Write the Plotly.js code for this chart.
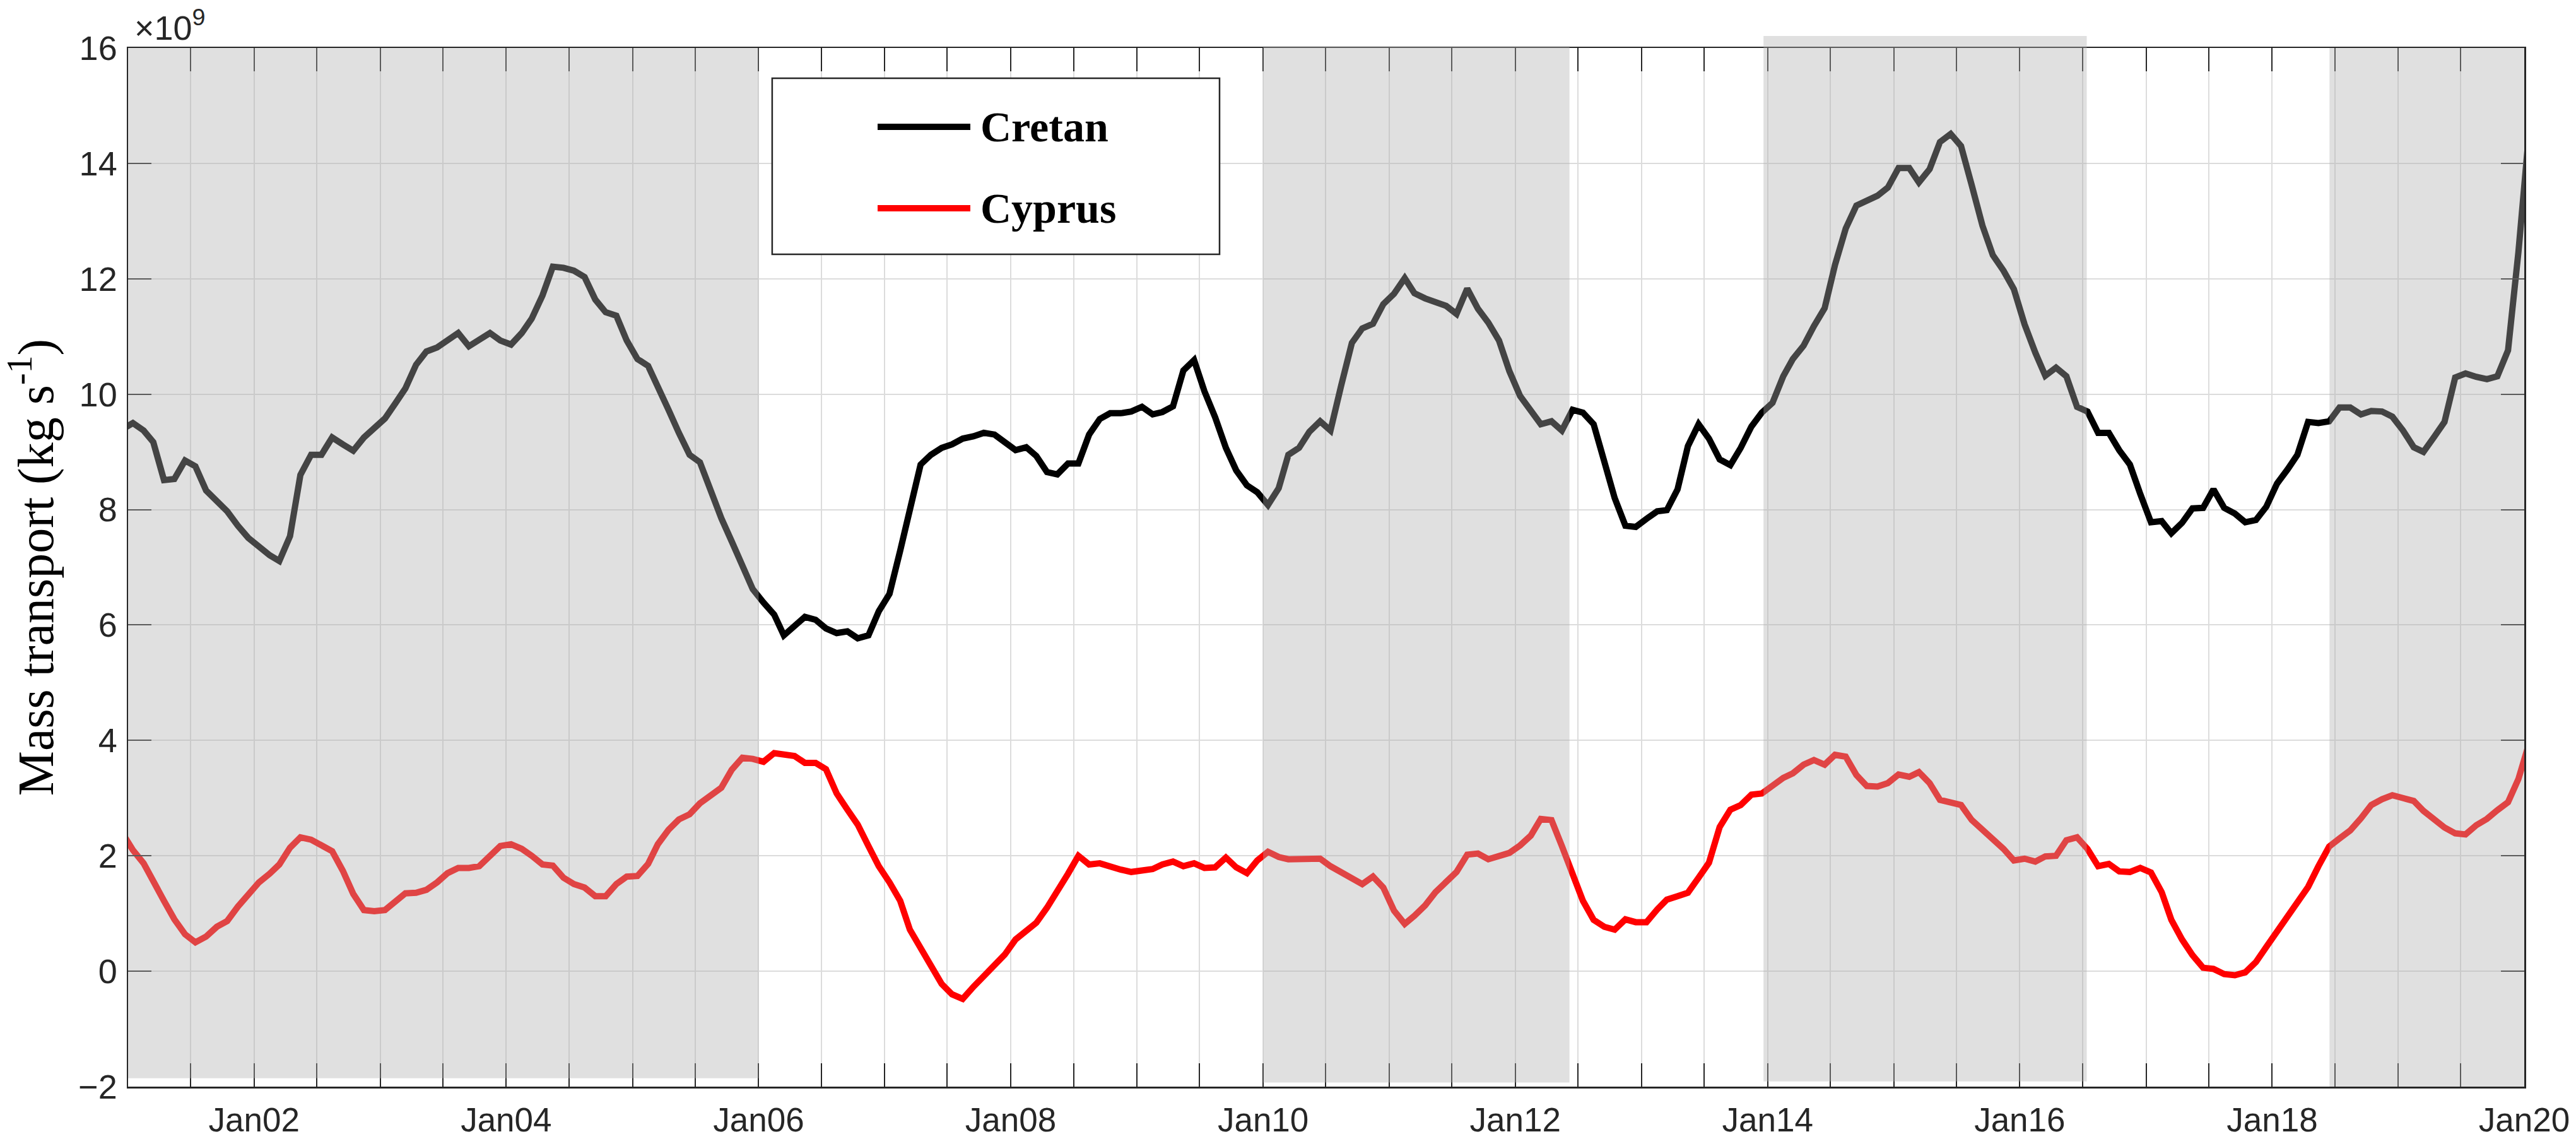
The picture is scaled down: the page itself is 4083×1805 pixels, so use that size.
<!DOCTYPE html>
<html>
<head>
<meta charset="utf-8">
<script src="https://cdn.plot.ly/plotly-3.0.1.min.js"></script>
<style>
  html, body { margin: 0; padding: 0; background: #fff; }
  #chart { width: 4083px; height: 1805px; }
</style>
</head>
<body>
<div id="chart"></div>
<script>
// monthly values (x10^9 kg/s), mid-month, Dec 2000 .. Jan 2020 (ends are clipped by the axis)
const firstMonth = [2000, 12];

const cretan = [
  9.39,
  9.50, 9.37, 9.17, 8.51, 8.53, 8.85, 8.75, 8.33, 8.15, 7.97, 7.72, 7.51,
  7.36, 7.21, 7.11, 7.54, 8.60, 8.95, 8.95, 9.25, 9.13, 9.02, 9.25, 9.40,
  9.58, 9.85, 10.10, 10.51, 10.74, 10.81, 10.93, 11.06, 10.83, 10.93, 11.06, 10.93,
  10.86, 11.06, 11.31, 11.71, 12.21, 12.19, 12.14, 12.03, 11.64, 11.42, 11.36, 10.93,
  10.61, 10.49, 10.10, 9.73, 9.33, 8.95, 8.82, 8.30, 7.85, 7.45, 7.02, 6.62,
  6.39, 6.18, 5.82, 5.97, 6.14, 6.09, 5.94, 5.86, 5.89, 5.77, 5.82, 6.24,
  6.54, 7.29, 8.05, 8.78, 8.95, 9.07, 9.13, 9.23, 9.27, 9.33, 9.30, 9.18,
  9.03, 9.08, 8.93, 8.65, 8.61, 8.80, 8.80, 9.30, 9.57, 9.67, 9.67, 9.70,
  9.78, 9.65, 9.69, 9.79, 10.41, 10.59, 10.05, 9.60, 9.07, 8.68, 8.42, 8.30,
  8.08, 8.37, 8.95, 9.07, 9.35, 9.53, 9.37, 10.15, 10.89, 11.14, 11.22, 11.56,
  11.74, 12.01, 11.75, 11.66, 11.60, 11.53, 11.39, 11.83, 11.48, 11.24, 10.93, 10.40,
  9.97, 9.73, 9.48, 9.53, 9.37, 9.73, 9.68, 9.48, 8.85, 8.20, 7.72, 7.70,
  7.84, 7.97, 7.99, 8.35, 9.10, 9.48, 9.23, 8.87, 8.77, 9.07, 9.44, 9.68,
  9.85, 10.31, 10.61, 10.84, 11.18, 11.49, 12.24, 12.87, 13.27, 13.35, 13.44, 13.58,
  13.92, 13.92, 13.67, 13.90, 14.37, 14.51, 14.30, 13.62, 12.92, 12.41, 12.14, 11.82,
  11.21, 10.72, 10.32, 10.46, 10.31, 9.78, 9.70, 9.33, 9.33, 9.03, 8.78, 8.27,
  7.78, 7.80, 7.59, 7.77, 8.02, 8.03, 8.35, 8.03, 7.93, 7.78, 7.82, 8.05,
  8.45, 8.70, 8.95, 9.52, 9.50, 9.53, 9.77, 9.77, 9.65, 9.71, 9.70, 9.61,
  9.37, 9.08, 9.00, 9.26, 9.52, 10.29, 10.36, 10.30, 10.26, 10.31, 10.76, 12.46,
  14.55
];

const cyprus = [
  2.40,
  2.10, 1.87, 1.54, 1.22, 0.90, 0.64, 0.50, 0.60, 0.77, 0.87, 1.12, 1.34,
  1.54, 1.69, 1.85, 2.14, 2.32, 2.28, 2.18, 2.08, 1.74, 1.34, 1.06, 1.04,
  1.06, 1.20, 1.35, 1.36, 1.41, 1.54, 1.70, 1.79, 1.79, 1.82, 2.00, 2.17,
  2.20, 2.12, 2.00, 1.85, 1.83, 1.62, 1.51, 1.45, 1.30, 1.30, 1.51, 1.64,
  1.65, 1.86, 2.20, 2.45, 2.63, 2.72, 2.91, 3.06, 3.18, 3.49, 3.70, 3.68,
  3.63, 3.78, 3.75, 3.73, 3.61, 3.61, 3.50, 3.08, 2.80, 2.54, 2.17, 1.82,
  1.54, 1.22, 0.72, 0.40, 0.11, -0.22, -0.40, -0.48, -0.27, -0.09, 0.09, 0.29,
  0.55, 0.70, 0.84, 1.10, 1.37, 1.69, 2.00, 1.85, 1.87, 1.81, 1.76, 1.72,
  1.74, 1.77, 1.85, 1.90, 1.82, 1.87, 1.79, 1.80, 1.97, 1.80, 1.70, 1.92,
  2.07, 1.98, 1.94, 1.94, 1.96, 1.95, 1.82, 1.72, 1.62, 1.51, 1.64, 1.45,
  1.05, 0.82, 0.96, 1.14, 1.37, 1.54, 1.72, 2.02, 2.04, 1.94, 1.99, 2.05,
  2.18, 2.35, 2.64, 2.62, 2.17, 1.67, 1.22, 0.89, 0.77, 0.72, 0.90, 0.85,
  0.85, 1.07, 1.24, 1.30, 1.36, 1.62, 1.88, 2.50, 2.80, 2.88, 3.06, 3.08,
  3.22, 3.35, 3.43, 3.58, 3.66, 3.58, 3.75, 3.72, 3.40, 3.21, 3.20, 3.26,
  3.41, 3.37, 3.45, 3.26, 2.97, 2.91, 2.88, 2.62, 2.46, 2.31, 2.12, 1.92,
  1.95, 1.90, 1.99, 2.00, 2.27, 2.32, 2.12, 1.82, 1.86, 1.73, 1.72, 1.79,
  1.71, 1.37, 0.89, 0.55, 0.28, 0.06, 0.04, -0.05, -0.07, -0.02, 0.16, 0.42,
  0.69, 0.94, 1.22, 1.46, 1.82, 2.16, 2.30, 2.44, 2.65, 2.88, 2.98, 3.05,
  3.00, 2.95, 2.78, 2.62, 2.49, 2.39, 2.37, 2.53, 2.64, 2.79, 2.93, 3.33,
  3.95
];

// shaded periods
const shadeStart = ['2001-01-01', '2010-01-01', '2013-12-20', '2018-06-16'];
const shadeEnd   = ['2006-01-01', '2012-06-06', '2016-07-13', '2020-01-01'];

const seriesNames = ['Cretan', 'Cyprus'];
const seriesColors = ['#000000', '#ff0000'];

// build the month dates
function pad(n) { return (n < 10 ? '0' : '') + n; }
const dates = [];
for (let i = 0; i < cretan.length; i++) {
  const d = new Date(Date.UTC(firstMonth[0], firstMonth[1] - 1 + i, 15));
  dates.push(d.getUTCFullYear() + '-' + pad(d.getUTCMonth() + 1) + '-15');
}

// labelled ticks on even Januaries, minor ticks/grid every half year
const tickvals = [], ticktext = [], halfYears = [];
for (let y = 2001; y <= 2020; y++) {
  halfYears.push(y + '-01-01');
  if (y < 2020) halfYears.push(y + '-07-01');
  if (y % 2 === 0) { tickvals.push(y + '-01-01'); ticktext.push('Jan' + String(y).slice(2)); }
}

const traces = [cretan, cyprus].map((vals, i) => ({
  x: dates, y: vals, type: 'scatter', mode: 'lines',
  name: seriesNames[i], showlegend: false,
  line: {color: seriesColors[i], width: 10}
}));

// shading sits over the lines, like a translucent patch
const shadeBottom = [0.008, 0.004, 0.005, 0.0];
const shadeTop = [1.0, 1.002, 1.0115, 1.0];
const shapes = shadeStart.map((s, i) => ({
  type: 'rect', layer: 'above', xref: 'x', yref: 'paper',
  x0: s, x1: shadeEnd[i], y0: shadeBottom[i], y1: shadeTop[i],
  fillcolor: 'rgba(175,175,175,0.39)', line: {width: 0}
}));

// hand-made legend box to get long line samples
const legX0 = 0.2688, legX1 = 0.4555, legY0 = 0.8013, legY1 = 0.9708;
const legRows = [0.9241, 0.8457];
shapes.push({
  type: 'rect', xref: 'paper', yref: 'paper', layer: 'above',
  x0: legX0, x1: legX1, y0: legY0, y1: legY1,
  fillcolor: '#ffffff', line: {color: '#262626', width: 2.5}
});
const annotations = [];
seriesNames.forEach((name, i) => {
  shapes.push({
    type: 'line', xref: 'paper', yref: 'paper', layer: 'above',
    x0: 0.3128, x1: 0.3515, y0: legRows[i], y1: legRows[i],
    line: {color: seriesColors[i], width: 10}
  });
  annotations.push({
    xref: 'paper', yref: 'paper', x: 0.3552, y: legRows[i],
    xanchor: 'left', yanchor: 'middle', showarrow: false,
    text: '<b>' + name + '</b>',
    font: {family: 'Liberation Serif, Times New Roman, serif', size: 68, color: '#000'}
  });
});

annotations.push({
  xref: 'paper', yref: 'paper', x: 0.002, y: 1.0,
  xanchor: 'left', yanchor: 'bottom', showarrow: false,
  text: '\u00d710<sup>9</sup>',
  font: {family: 'Liberation Sans, Arial, sans-serif', size: 54, color: '#262626'}
});

const axisCommon = {
  showline: true, mirror: 'ticks', linecolor: '#262626', linewidth: 2.5,
  ticks: 'inside', ticklen: 37, tickwidth: 2, tickcolor: '#262626',
  showgrid: true, gridcolor: '#dcdcdc', gridwidth: 2, zeroline: false,
  tickfont: {family: 'Liberation Sans, Arial, sans-serif', size: 54, color: '#262626'}
};

const layout = {
  width: 4083, height: 1805,
  margin: {l: 203, r: 82, t: 76, b: 83},
  paper_bgcolor: '#ffffff', plot_bgcolor: '#ffffff',
  showlegend: false,
  xaxis: Object.assign({}, axisCommon, {
    type: 'date', range: ['2001-01-01', '2020-01-01'],
    tickmode: 'array', tickvals: tickvals, ticktext: ticktext,
    tickfont: {family: 'Liberation Sans, Arial, sans-serif', size: 53, color: '#262626'},
    ticklabelstandoff: 5,
    minor: {
      tickmode: 'array', tickvals: halfYears,
      ticks: 'inside', ticklen: 37, tickwidth: 2, tickcolor: '#262626',
      showgrid: true, gridcolor: '#dcdcdc', gridwidth: 2
    }
  }),
  yaxis: Object.assign({}, axisCommon, {
    range: [-2, 16], tickmode: 'linear', tick0: 0, dtick: 2,
    ticklabelstandoff: 4,
    title: {
      text: 'Mass transport (kg s<sup>-1</sup>)', standoff: 20,
      font: {family: 'Liberation Serif, Times New Roman, serif', size: 80, color: '#000'}
    }
  }),
  shapes: shapes,
  annotations: annotations
};

Plotly.newPlot('chart', traces, layout, {staticPlot: true});
</script>
</body>
</html>
